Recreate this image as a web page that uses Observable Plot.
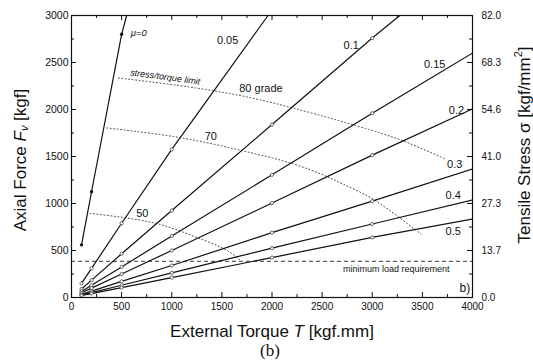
<!DOCTYPE html>
<html><head><meta charset="utf-8">
<script src="https://cdn.jsdelivr.net/npm/d3@7"></script>
<script src="https://cdn.jsdelivr.net/npm/@observablehq/plot@0.6"></script>
<style>
body{margin:0;background:#fff;overflow:hidden;}
#cap{font-family:"Liberation Serif","DejaVu Serif",serif;font-size:17px;text-align:center;width:533px;padding-left:7px;box-sizing:border-box;line-height:22px;color:#111;}
</style></head><body>
<div id="chart"></div><div id="cap">(b)</div>
<script>
// ---- data ----
const torqueSteps = [100, 200, 500, 1000, 2000, 3000, 4000];
const torqueMu000 = [100, 200, 500, 550];
const forceMu000  = [560, 1125, 2800, 3000];
const torqueMu005 = [100, 200, 500, 1000, 1960];
const forceMu005  = [150, 310, 790, 1575, 3000];
const torqueMu010 = [100, 200, 500, 1000, 2000, 3000, 3275];
const forceMu010  = [90, 185, 465, 925, 1840, 2760, 3000];
const forceMu015  = [65, 130, 325, 655, 1305, 1960, 2600];
const forceMu020  = [50, 100, 250, 500, 1005, 1515, 2006];
const forceMu030  = [34, 68, 172, 340, 690, 1025, 1367];
const forceMu040  = [26, 52, 130, 262, 525, 782, 1037];
const forceMu050  = [21, 42, 105, 212, 425, 639, 835];

const torqueGrade80 = [468, 1285, 1885, 2835, 3300, 3735];
const forceGrade80  = [2336, 2222, 2102, 1829, 1669, 1470];
const torqueGrade70 = [352, 1068, 1702, 2202, 2518, 2702, 3018, 3485];
const forceGrade70  = [1804, 1704, 1562, 1425, 1300, 1210, 1040, 675];
const torqueGrade50 = [185, 618, 890, 1223, 1557, 1690];
const forceGrade50  = [895, 835, 775, 650, 497, 390];

const minLoad = [385];

const xMajorTicks = [0, 500, 1000, 1500, 2000, 2500, 3000, 3500, 4000];
const xMinorTicks = [250, 750, 1250, 1750, 2250, 2750, 3250, 3750];
const yMajorTicks = [0, 500, 1000, 1500, 2000, 2500, 3000];
const yMinorTicks = [250, 750, 1250, 1750, 2250, 2750];
const stressTickLabels = ["0.0", "13.7", "27.3", "41.0", "54.6", "68.3", "82.0"];

// annotation labels
const muLabels  = ["0.05", "0.1", "0.15", "0.2", "0.3", "0.4", "0.5"];
const muLabelT  = [1557, 2790, 3623, 3840, 3823, 3807, 3807];
const muLabelF  = [2731, 2678, 2483, 1994, 1419, 1082, 699];
const gradeLabels = ["80 grade", "70", "50"];
const gradeLabelT = [1890, 1390, 707];
const gradeLabelF = [2228, 1710, 898];

// ---- build tables ----
const seriesDefs = [
  ["0", torqueMu000, forceMu000],
  ["0.05", torqueMu005, forceMu005],
  ["0.1", torqueMu010, forceMu010],
  ["0.15", torqueSteps, forceMu015],
  ["0.2", torqueSteps, forceMu020],
  ["0.3", torqueSteps, forceMu030],
  ["0.4", torqueSteps, forceMu040],
  ["0.5", torqueSteps, forceMu050]
];
const lineRows = [];
seriesDefs.forEach(([mu, Ts, Fs]) => Ts.forEach((T, i) => lineRows.push({mu, T, F: Fs[i]})));
const markerRows = lineRows.filter(d => torqueSteps.includes(d.T) && d.T < 4000);
const limitRows = [];
[["80", torqueGrade80, forceGrade80], ["70", torqueGrade70, forceGrade70], ["50", torqueGrade50, forceGrade50]]
  .forEach(([g, Ts, Fs]) => Ts.forEach((T, i) => limitRows.push({g, T, F: Fs[i]})));
const muLabelRows = muLabels.map((t, i) => ({t, T: muLabelT[i], F: muLabelF[i]}));
const gradeLabelRows = gradeLabels.map((t, i) => ({t, T: gradeLabelT[i], F: gradeLabelF[i]}));

const W = 533, H = 340, mL = 71, mR = 61, mT = 15, mB = 43;
const fw = W - mL - mR, fh = H - mT - mB;

const chart = Plot.plot({
  width: W, height: H,
  marginLeft: mL, marginRight: mR, marginTop: mT, marginBottom: mB,
  style: {fontFamily: "'Liberation Sans', Arial, sans-serif", color: "#111", background: "white"},
  x: {domain: [0, 4000]},
  y: {domain: [0, 3000]},
  marks: [
    Plot.line(limitRows, {x: "T", y: "F", z: "g", curve: "catmull-rom", stroke: "#444", strokeWidth: 1, strokeDasharray: "1,2.5"}),
    Plot.ruleY(minLoad, {stroke: "#222", strokeWidth: 0.9, strokeDasharray: "4,3"}),
    Plot.line(lineRows, {x: "T", y: "F", z: "mu", stroke: "#111", strokeWidth: 1.2, clip: true}),
    Plot.dot(markerRows.filter(d => d.mu !== "0"), {x: "T", y: "F", r: 1.6, fill: "white", stroke: "#444", strokeWidth: 0.8}),
    Plot.dot(markerRows.filter(d => d.mu === "0"), {x: "T", y: "F", r: 1.7, fill: "#111"}),
    Plot.frame({stroke: "#111", strokeWidth: 1.2}),
    // inward ticks
    Plot.ruleX(xMajorTicks, {x: d => d, insetTop: fh - 5, stroke: "#111"}),
    Plot.ruleX(xMinorTicks, {x: d => d, insetTop: fh - 3, stroke: "#111"}),
    Plot.ruleX(xMajorTicks, {x: d => d, insetBottom: fh - 5, stroke: "#111"}),
    Plot.ruleX(xMinorTicks, {x: d => d, insetBottom: fh - 3, stroke: "#111"}),
    Plot.ruleY(yMajorTicks, {y: d => d, insetRight: fw - 5, stroke: "#111"}),
    Plot.ruleY(yMinorTicks, {y: d => d, insetRight: fw - 3, stroke: "#111"}),
    Plot.ruleY(yMajorTicks, {y: d => d, insetLeft: fw - 5, stroke: "#111"}),
    Plot.ruleY(yMinorTicks, {y: d => d, insetLeft: fw - 3, stroke: "#111"}),
    Plot.axisX(xMajorTicks, {anchor: "bottom", tickSize: 0, tickPadding: 5, fontSize: 10, label: null, tickFormat: d => String(d)}),
    Plot.axisY(yMajorTicks, {anchor: "left", tickSize: 0, tickPadding: 3, fontSize: 10.5, label: null, tickFormat: d => String(d)}),
    Plot.axisY(yMajorTicks, {anchor: "right", tickSize: 0, tickPadding: 9, fontSize: 10, label: null, tickFormat: d => stressTickLabels[yMajorTicks.indexOf(d)]}),
    // labels
    Plot.text(muLabelRows, {x: "T", y: "F", text: "t", fontSize: 11, fill: "#111"}),
    Plot.text(["μ=0"], {x: 590, y: 2815, text: d => d, fontSize: 9.5, fontStyle: "italic", textAnchor: "start", fill: "#111"}),
    Plot.text(gradeLabelRows, {x: "T", y: "F", text: "t", fontSize: 11, fill: "#111"}),
    Plot.text(["stress/torque limit"], {x: 935, y: 2345, text: d => d, fontSize: 9, fontStyle: "italic", rotate: 7.7, fill: "#111"}),
    Plot.text(["minimum load requirement"], {x: 3240, y: 302, text: d => d, fontSize: 9, fill: "#111"}),
    Plot.text(["b)"], {x: 3923, y: 100, text: d => d, fontSize: 12, fill: "#111"})
  ]
});
document.getElementById("chart").appendChild(chart);

// axis titles with rich text
const svg = d3.select(chart);
const tf = "'Liberation Sans', Arial, sans-serif";
const bt = svg.append("text").attr("x", 272).attr("y", 337).attr("text-anchor", "middle")
  .attr("font-size", 17).attr("font-family", tf).attr("fill", "#111");
bt.append("tspan").text("External Torque ");
bt.append("tspan").attr("font-style", "italic").text("T");
bt.append("tspan").text(" [kgf.mm]");

const lt = svg.append("text").attr("transform", "translate(20,160) rotate(-90)").attr("text-anchor", "middle")
  .attr("dominant-baseline", "central").attr("font-size", 17).attr("font-family", tf).attr("fill", "#111");
lt.append("tspan").text("Axial Force ");
lt.append("tspan").attr("font-style", "italic").text("F");
lt.append("tspan").attr("font-style", "italic").attr("font-size", 11).attr("dy", 4).text("v");
lt.append("tspan").attr("dy", -4).text(" [kgf]");

const rt = svg.append("text").attr("transform", "translate(524,145) rotate(-90)").attr("text-anchor", "middle")
  .attr("dominant-baseline", "central").attr("font-size", 17).attr("font-family", tf).attr("fill", "#111");
rt.append("tspan").text("Tensile Stress σ [kgf/mm");
rt.append("tspan").attr("font-size", 11).attr("dy", -6).text("2");
rt.append("tspan").attr("dy", 6).text("]");
</script></body></html>
